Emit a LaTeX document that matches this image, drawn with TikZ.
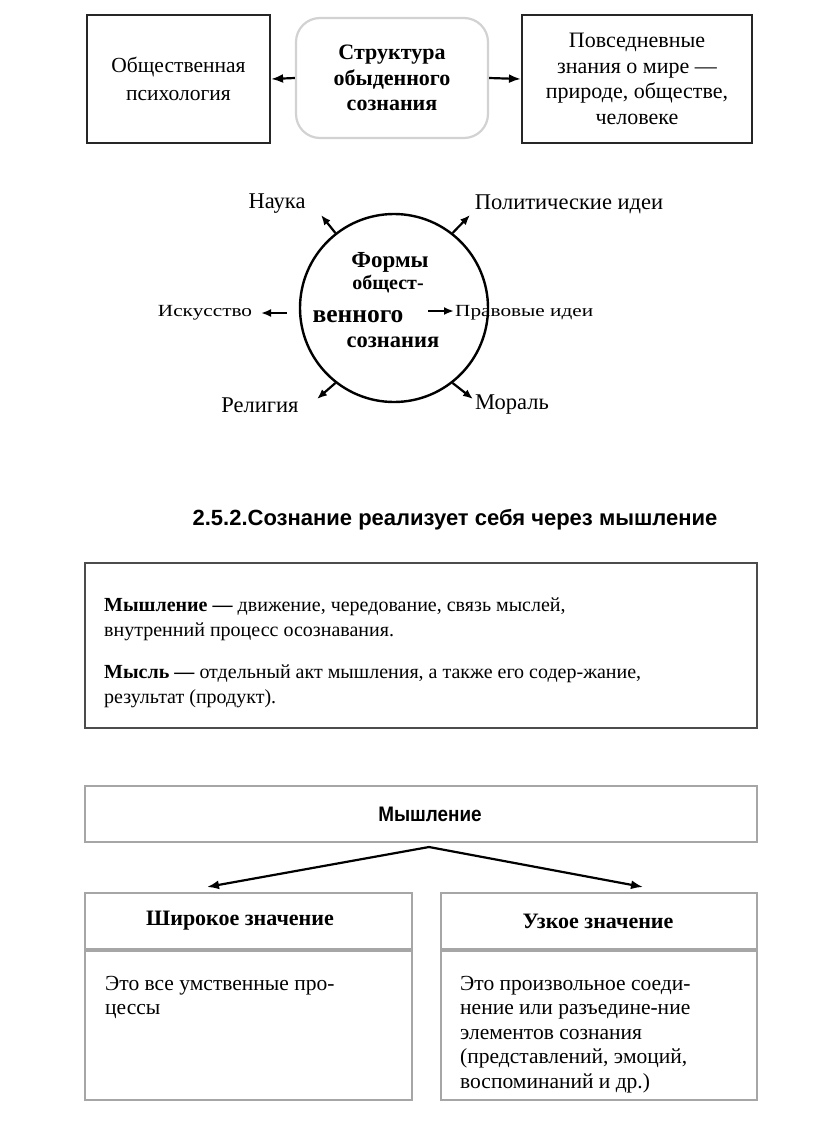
\documentclass[tikz,border=0pt]{standalone}
\usepackage{fontspec}
\setmainfont{Liberation Serif}
\newfontfamily\headfont[FakeStretch=0.9]{Liberation Sans}
\newfontfamily\widefont[FakeStretch=1.25]{Liberation Serif}
\usetikzlibrary{arrows.meta}
\newcommand\fsz[2]{\fontsize{#1}{#2}\selectfont}

\begin{document}
\begin{tikzpicture}[x=1pt,y=-1pt,inner sep=0pt,
  box/.style={draw=black!85,line width=2.2pt,align=center},
  cell/.style={draw=gray!70,line width=2pt,align=center},
  arr/.style={-{Latex[length=12pt,width=9pt]},line width=2.2pt},
  arrs/.style={-{Latex[length=10pt,width=8pt]},line width=2.2pt},
  lbl/.style={font=\fsz{22.5}{23}},
  body/.style={anchor=north west,align=left,font=\fsz{21.5}{24.5}}]
\useasboundingbox (0,0) rectangle (816,1146);
\fill[white] (0,0) rectangle (816,1146);

\node[box,minimum width=183,minimum height=128,font=\fsz{21.5}{28}] (psy) at (178.5,79) {Общественная\\психология};
\node[box,draw=gray!35,rounded corners=24pt,minimum width=192,minimum height=120,font=\bfseries\fsz{22}{25.5}] (struct) at (392,78) {Структура\\обыденного\\сознания};
\node[box,minimum width=230,minimum height=128,font=\fsz{22}{25.5}] (know) at (637,79) {Повседневные\\знания о мире ---\\природе, обществе,\\человеке};
\draw[arr] (struct.west) -- (psy.east);
\draw[arr] (struct.east) -- (know.west);

\node[draw,circle,line width=2.4pt,minimum size=188] (forms) at (394,308) {};
\node[font=\bfseries\fsz{23}{23}] (f1) at (390,262) {Формы};
\node[font=\bfseries\fsz{20}{20}] (f2) at (388,284) {общест-};
\node[font=\bfseries\fsz{25.5}{25}] (f3) at (358,317) {венного};
\node[font=\bfseries\fsz{22.5}{22}] (f4) at (393,342) {сознания};

\node[lbl] (nauka) at (277,204) {Наука};
\node[lbl] (polit) at (569,204) {Политические идеи};
\node[font=\widefont\fsz{17}{17}] (art) at (205,313) {Искусство};
\node[font=\widefont\fsz{17}{17},anchor=west] (law) at (455,313) {Правовые идеи};
\node[lbl] (relig) at (260,405) {Религия};
\node[lbl] (moral) at (512,405) {Мораль};

\coordinate (tnauka) at (321,215);
\coordinate (tpolit) at (470,215);
\coordinate (trelig) at (317,399);
\coordinate (tmoral) at (473,399);
\coordinate (sart) at (287,313);
\coordinate (tart) at (261,313);
\coordinate (slaw) at (428,311);
\coordinate (tlaw) at (454,311);
\draw[arrs] (forms.128) -- (tnauka);
\draw[arrs] (forms.52) -- (tpolit);
\draw[arrs] (forms.232) -- (trelig);
\draw[arrs] (forms.308) -- (tmoral);
\draw[arrs] (sart) -- (tart);
\draw[arrs] (slaw) -- (tlaw);

\node[font=\sffamily\fontspec{Liberation Sans}\bfseries\fsz{22}{22}] (title) at (455,520) {2.5.2.Сознание реализует себя через мышление};

\node[draw=gray!60!black,line width=2.6pt,minimum width=672,minimum height=165] (defbox) at (421,645.5) {};
\node[body,font=\fsz{20}{25}] (deftext) at (104,598) {\textbf{Мышление ---} движение, чередование, связь мыслей,\\внутренний процесс осознавания.\\[17pt]\textbf{Мысль ---} отдельный акт мышления, а также его содер-жание,\\результат (продукт).};

\node[cell,minimum width=672,minimum height=56] (think) at (421,814) {};
\node[font=\headfont\bfseries\fsz{21}{21}] (thinkt) at (430,814) {Мышление};
\node[cell,minimum width=327,minimum height=56] (wide) at (248.5,921) {};
\node[cell,minimum width=327,minimum height=149,anchor=north] (wideb) at (wide.south) {};
\node[cell,minimum width=316,minimum height=56] (narrow) at (599,921) {};
\node[cell,minimum width=316,minimum height=149,anchor=north] (narrowb) at (narrow.south) {};
\node[font=\bfseries\fsz{22}{22}] (wideh) at (240,921) {Широкое значение};
\node[font=\bfseries\fsz{22}{22}] (narrowh) at (598,921) {Узкое значение};
\node[body] (widet) at (105,976) {Это все умственные про-\\цессы};
\node[body] (narrowt) at (460,976) {Это произвольное соеди-\\нение или разъедине-ние\\элементов сознания\\(представлений, эмоций,\\воспоминаний и др.)};

\coordinate (split) at (429,847);
\coordinate (tleft) at (207,887);
\coordinate (tright) at (643,887);
\draw[arr] (split) -- (tleft);
\draw[arr] (split) -- (tright);
\end{tikzpicture}
\end{document}
